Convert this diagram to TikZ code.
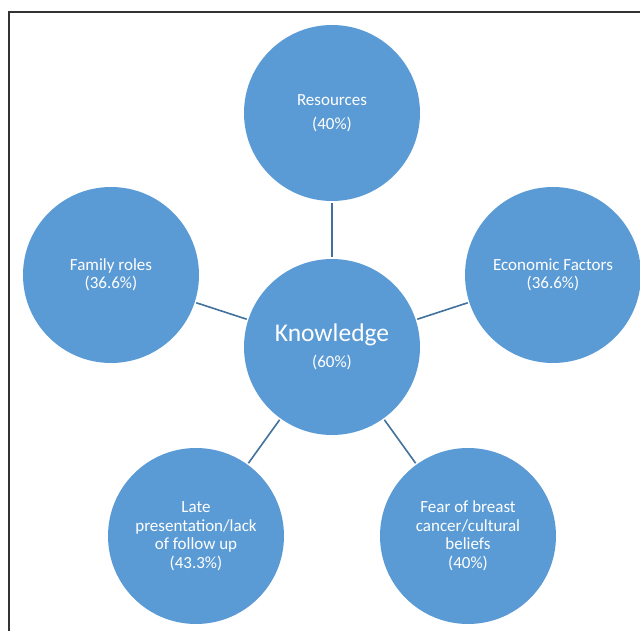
\documentclass[tikz,border=0pt]{standalone}
\usepackage{fontspec}
\setmainfont{Carlito}
\usetikzlibrary{positioning}
\definecolor{circleblue}{HTML}{5B9BD5}
\definecolor{linkblue}{HTML}{41719C}

\begin{document}
\begin{tikzpicture}[x=1pt, y=-1pt, main/.style={circle, fill=circleblue, text=white, minimum size=176pt, inner sep=0pt, align=center, font=\fontsize{17}{18.5}\selectfont}, link/.style={draw=linkblue, line width=1.6pt, shorten <=1.5pt, shorten >=1.5pt}]
      \useasboundingbox (0,0) rectangle (640,631);
      \draw[line width=1.2pt, black!80] (9,631) -- (9,12) -- (640,12);

      \node[main] (1) at (332,347) {{\fontsize{25.5}{27}\selectfont Knowledge}\\[7pt](60\%)};
      \node[main] (2) at (332,113) {Resources\\[6pt](40\%)};
      \node[main] (3) at (111,275) {Family roles\\(36.6\%)};
      \node[main] (4) at (553,275) {Economic Factors\\(36.6\%)};
      \node[main] (5) at (196,536) {Late\\presentation/lack\\of follow up\\(43.3\%)};
      \node[main] (6) at (468,536) {Fear of breast\\cancer/cultural\\beliefs\\(40\%)};

      \draw[link] (1) -- (2);
      \draw[link] (1) -- (3);
      \draw[link] (1) -- (4);
      \draw[link] (1) -- (5);
      \draw[link] (1) -- (6);
    \end{tikzpicture}
\end{document}
